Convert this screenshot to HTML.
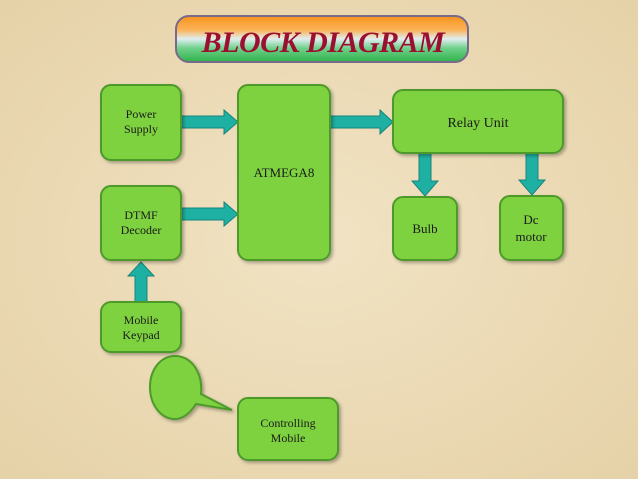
<!DOCTYPE html>
<html><head><style>
html,body{margin:0;padding:0;}
body{width:638px;height:479px;overflow:hidden;background:#eedfbd;}
svg{display:block;}
text{font-family:"Liberation Serif",serif;fill:#1a1a1a;}
</style></head><body>
<svg width="638" height="479" viewBox="0 0 638 479" xmlns="http://www.w3.org/2000/svg">
<defs>
<linearGradient id="tg" x1="0" y1="0" x2="0" y2="1">
<stop offset="0" stop-color="#f7931e"/>
<stop offset="0.3" stop-color="#fbb255"/>
<stop offset="0.5" stop-color="#dfeef0"/>
<stop offset="0.7" stop-color="#6fd08a"/>
<stop offset="1" stop-color="#2fb34a"/>
</linearGradient>
<radialGradient id="bg" cx="0.5" cy="0.5" r="0.7">
<stop offset="0" stop-color="#f1e3c4"/>
<stop offset="1" stop-color="#e6d2a8"/>
</radialGradient>
<filter id="sh" x="-10%" y="-10%" width="130%" height="130%"><feDropShadow dx="2" dy="2" stdDeviation="1.5" flood-color="#000" flood-opacity="0.3"/></filter>
</defs>
<rect width="638" height="479" fill="url(#bg)"/>
<rect x="176" y="16" width="292" height="46" rx="13" fill="url(#tg)" stroke="#7a6a8a" stroke-width="2"/>
<text x="323" y="52" text-anchor="middle" font-size="30" font-style="italic" font-weight="bold" style="fill:#9b1030" letter-spacing="-0.5">BLOCK DIAGRAM</text>
<g fill="#1fb0a4" stroke="#17857a" stroke-width="1">
<polygon points="181,116 224,116 224,110 238,122 224,134 224,128 181,128"/>
<polygon points="181,208 224,208 224,202 238,214 224,226 224,220 181,220"/>
<polygon points="330,116 380,116 380,110 393,122 380,134 380,128 330,128"/>
<polygon points="419,153 431,153 431,181 438,181 425,196 412,181 419,181"/>
<polygon points="526,153 538,153 538,180 545,180 532,195 519,180 526,180"/>
<polygon points="135,302 147,302 147,276 154,276 141,262 128,276 135,276"/>
</g>
<g fill="#7ed23f" stroke="#4d9a2a" stroke-width="2" filter="url(#sh)">
<rect x="101" y="85" width="80" height="75" rx="10"/>
<rect x="101" y="186" width="80" height="74" rx="10"/>
<rect x="238" y="85" width="92" height="175" rx="10"/>
<rect x="393" y="90" width="170" height="63" rx="10"/>
<rect x="393" y="197" width="64" height="63" rx="10"/>
<rect x="500" y="196" width="63" height="64" rx="10"/>
<rect x="101" y="302" width="80" height="50" rx="10"/>
<rect x="238" y="398" width="100" height="62" rx="10"/>
<path d="M175,356 C191,356 203,372 201,394 L232,410 L196,404 C190,413 183,419 175,419 C161,419 150,405 150,387 C150,369 161,356 175,356 Z"/>
</g>
<g font-size="12" text-anchor="middle">
<text x="141" y="118">Power</text><text x="141" y="133">Supply</text>
<text x="141" y="219">DTMF</text><text x="141" y="234">Decoder</text>
<text x="284" y="177" font-size="13">ATMEGA8</text>
<text x="478" y="127" font-size="14">Relay Unit</text>
<text x="425" y="233" font-size="13">Bulb</text>
<text x="531" y="224" font-size="13">Dc</text><text x="531" y="241" font-size="13">motor</text>
<text x="141" y="324">Mobile</text><text x="141" y="339">Keypad</text>
<text x="288" y="427">Controlling</text><text x="288" y="442">Mobile</text>
</g>
</svg>
</body></html>
